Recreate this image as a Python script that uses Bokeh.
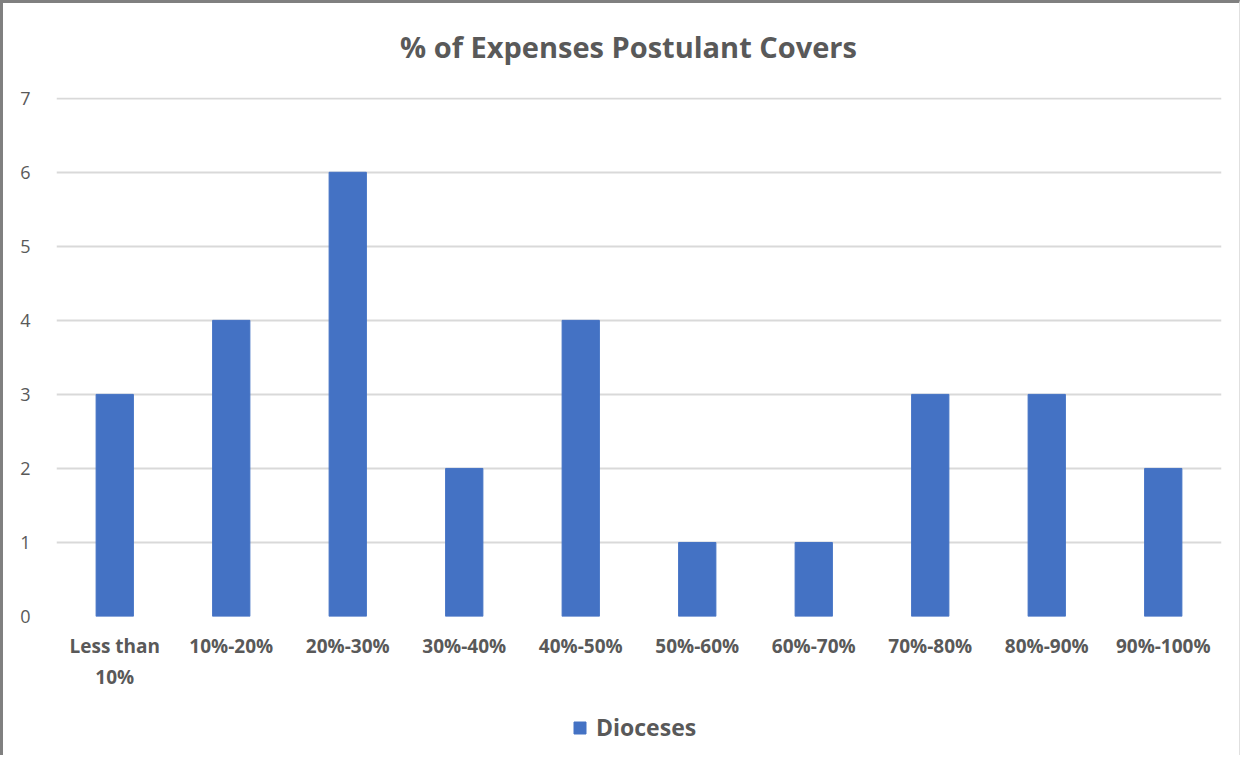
from bokeh.plotting import figure
from bokeh.models import Legend, LegendItem, Label
from bokeh.layouts import column
from bokeh.embed import file_html
from bokeh.resources import INLINE

title_text = "% of Expenses Postulant Covers"
categories = ["Less than\n10%", "10%-20%", "20%-30%", "30%-40%", "40%-50%",
              "50%-60%", "60%-70%", "70%-80%", "80%-90%", "90%-100%"]
dioceses = [3, 4, 6, 2, 4, 1, 1, 3, 3, 2]
y_ticks = [0, 1, 2, 3, 4, 5, 6, 7]
series_name = "Dioceses"

TXT = "#595959"
FONT = "Open Sans"
BAR = "#4472C4"
W = 1236


def strip(h):
    f = figure(x_range=(0, 1), y_range=(0, 1), width=W, height=h,
               output_backend="svg", toolbar_location=None, min_border=0)
    f.axis.visible = False
    f.grid.grid_line_color = None
    f.outline_line_color = None
    return f


# title strip
t = strip(82)
t.add_layout(Label(x=572, y=39, x_units="screen", y_units="screen",
                   text=title_text, text_align="center", text_baseline="middle",
                   text_font=FONT, text_font_size="29px", text_font_style="bold",
                   text_color=TXT))

# main chart
p = figure(x_range=categories, y_range=(0, 7.01), width=W, height=608,
           output_backend="svg", toolbar_location=None,
           min_border_left=53, min_border_right=18, min_border_top=12,
           min_border_bottom=77)
p.outline_line_color = None

r = p.vbar(x=categories, top=dioceses, width=0.32, color=BAR)

p.yaxis.ticker = y_ticks
p.yaxis.axis_line_color = None
p.yaxis.major_tick_line_color = None
p.yaxis.minor_tick_line_color = None
p.yaxis.major_label_text_font = FONT
p.yaxis.major_label_text_font_size = "18px"
p.yaxis.major_label_text_color = TXT
p.yaxis.major_label_standoff = 20

p.xaxis.axis_line_color = None
p.xaxis.major_tick_line_color = None
p.xaxis.major_label_text_font = FONT
p.xaxis.major_label_text_font_size = "19px"
p.xaxis.major_label_text_font_style = "bold"
p.xaxis.major_label_text_color = TXT
p.xaxis.major_label_standoff = 10

p.xgrid.grid_line_color = None
p.ygrid.grid_line_color = "#d9d9d9"
p.ygrid.grid_line_width = 2

# legend strip (its swatch glyph lies outside the strip's range)
q = strip(62)
r2 = q.vbar(x=[-5], top=[-5], width=0.1, color=BAR)
legend = Legend(items=[LegendItem(label=series_name, renderers=[r2])],
                orientation="horizontal", location=(516, 12),
                label_text_font=FONT, label_text_font_size="23px",
                label_text_font_style="bold", label_text_color=TXT,
                label_standoff=9,
                glyph_width=15, glyph_height=15, border_line_color=None,
                background_fill_alpha=0, margin=0, padding=4)
q.add_layout(legend)

layout = column(t, p, q, spacing=0,
                styles={"border-top": "3px solid #808080",
                        "border-left": "3px solid #808080",
                        "border-right": "1px solid #e0e0e0"})

open("out.html", "w").write(file_html(layout, INLINE))
